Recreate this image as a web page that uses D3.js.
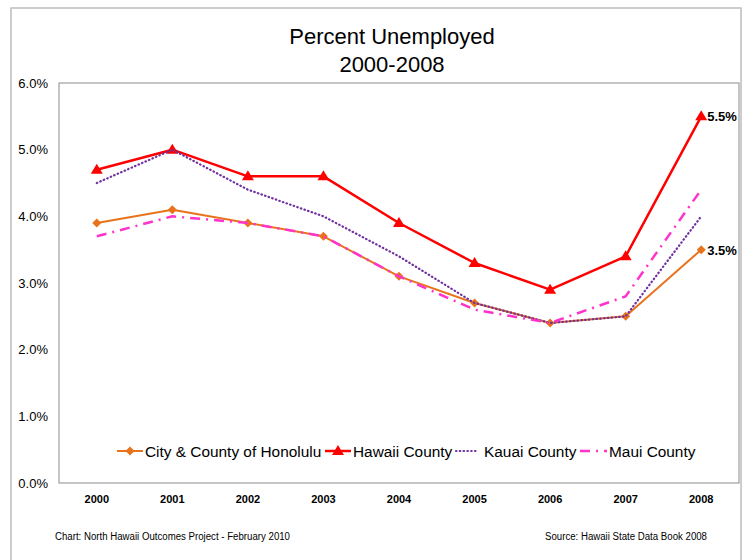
<!DOCTYPE html>
<html><head><meta charset="utf-8">
<script src="https://cdn.jsdelivr.net/npm/d3@7"></script>
<style>body{margin:0;background:#fff;}svg{display:block;font-family:"Liberation Sans",Arial,sans-serif;}</style>
</head><body><svg id="c" width="750" height="560"></svg>
<script>
const years = ["2000","2001","2002","2003","2004","2005","2006","2007","2008"];
const honolulu = [3.9, 4.1, 3.9, 3.7, 3.1, 2.7, 2.4, 2.5, 3.5];
const hawaii   = [4.7, 5.0, 4.6, 4.6, 3.9, 3.3, 2.9, 3.4, 5.5];
const kauai    = [4.5, 5.0, 4.4, 4.0, 3.4, 2.7, 2.4, 2.5, 4.0];
const maui     = [3.7, 4.0, 3.9, 3.7, 3.1, 2.6, 2.4, 2.8, 4.4];
const yTicks = [0,1,2,3,4,5,6];
const seriesNames = ["City & County of Honolulu","Hawaii County","Kauai County","Maui County"];

const series = [
  {name: seriesNames[0], values: honolulu, color:"#E8731C", width:2, dash:null, marker:"diamond"},
  {name: seriesNames[1], values: hawaii, color:"#FF0000", width:2.5, dash:null, marker:"triangle"},
  {name: seriesNames[2], values: kauai, color:"#7030A0", width:2.2, dash:"0.5,3.3", cap:"round", marker:null},
  {name: seriesNames[3], values: maui, color:"#FF33CC", width:2.5, dash:"10,6,2,6", marker:null}
];

const svg = d3.select("#c");
const L=59, R=739, T=83, B=483;

svg.append("rect").attr("x",11).attr("y",8).attr("width",730).attr("height",570)
  .attr("fill","none").attr("stroke","#bdbdbd").attr("stroke-width",1.5);

const x = d3.scaleBand().domain(years).range([L,R]);
const y = d3.scaleLinear().domain([0,6]).range([B,T]);

svg.append("rect").attr("x",L).attr("y",T).attr("width",R-L).attr("height",B-T)
  .attr("fill","none").attr("stroke","#8c8c8c").attr("stroke-width",1);

// title
svg.append("text").attr("x",392).attr("y",44).attr("text-anchor","middle")
  .attr("font-size",22).text("Percent Unemployed");
svg.append("text").attr("x",392).attr("y",72).attr("text-anchor","middle")
  .attr("font-size",22).text("2000-2008");

// y axis
const yAxis = d3.axisLeft(y).tickValues(yTicks).tickSize(0).tickPadding(11)
  .tickFormat(d => d3.format(".1f")(d) + "%");
const ga = svg.append("g").attr("transform",`translate(${L},0)`).call(yAxis);
ga.select(".domain").remove();
ga.selectAll("text").attr("font-size",13).attr("font-family","Liberation Sans, Arial").attr("fill","#000");

// x axis
const xAxis = d3.axisBottom(x).tickSize(0).tickPadding(12);
const gx = svg.append("g").attr("transform",`translate(0,${B})`).call(xAxis);
gx.select(".domain").remove();
gx.selectAll("text").attr("font-size",11).attr("font-weight","bold")
  .attr("font-family","Liberation Sans, Arial").attr("fill","#000");

const line = d3.line().x((d,i)=>x(years[i])+x.bandwidth()/2).y(d=>y(d));
const diamondPath = "M0,-4.5L4.5,0L0,4.5L-4.5,0Z";
const trianglePath = "M0,-6L6,4L-6,4Z";

series.forEach(s => {
  svg.append("path").datum(s.values).attr("d",line).attr("fill","none")
    .attr("stroke",s.color).attr("stroke-width",s.width)
    .attr("stroke-dasharray",s.dash).attr("stroke-linecap",s.cap||"butt")
    .attr("stroke-linejoin","round");
  if (s.marker) {
    svg.selectAll(null).data(s.values).enter().append("path")
      .attr("d", s.marker==="diamond" ? diamondPath : trianglePath)
      .attr("transform",(d,i)=>`translate(${x(years[i])+x.bandwidth()/2},${y(d)})`)
      .attr("fill",s.color);
  }
});

// end labels
const lastX = x(years[8])+x.bandwidth()/2;
[hawaii[8], honolulu[8]].forEach(v => {
  svg.append("text").attr("x",lastX+6).attr("y",y(v)+5).attr("font-size",13)
    .attr("font-weight","bold").text(d3.format(".1f")(v)+"%");
});

// legend
const legendItems = [
  {s:series[0], lx:117, lw:26, tx:145},
  {s:series[1], lx:325, lw:26, tx:353},
  {s:series[2], lx:456, lw:22, tx:484},
  {s:series[3], lx:580, lw:27, tx:609}
];
const ly = 451;
legendItems.forEach(({s,lx,lw,tx}) => {
  svg.append("line").attr("x1",lx).attr("x2",lx+lw).attr("y1",ly).attr("y2",ly)
    .attr("stroke",s.color).attr("stroke-width",s.width)
    .attr("stroke-dasharray",s.dash).attr("stroke-linecap",s.cap||"butt");
  if (s.marker) {
    svg.append("path").attr("d", s.marker==="diamond" ? diamondPath : trianglePath)
      .attr("transform",`translate(${lx+lw/2},${ly})`).attr("fill",s.color);
  }
  svg.append("text").attr("x",tx).attr("y",ly+6).attr("font-size",15.4).text(s.name);
});

// footer
svg.append("text").attr("x",55).attr("y",540).attr("font-size",10)
  .attr("textLength",235).attr("lengthAdjust","spacingAndGlyphs")
  .text("Chart:  North Hawaii Outcomes Project - February 2010");
svg.append("text").attr("x",545).attr("y",540).attr("font-size",10)
  .attr("textLength",162).attr("lengthAdjust","spacingAndGlyphs")
  .text("Source:  Hawaii State Data Book  2008");
</script></body></html>
